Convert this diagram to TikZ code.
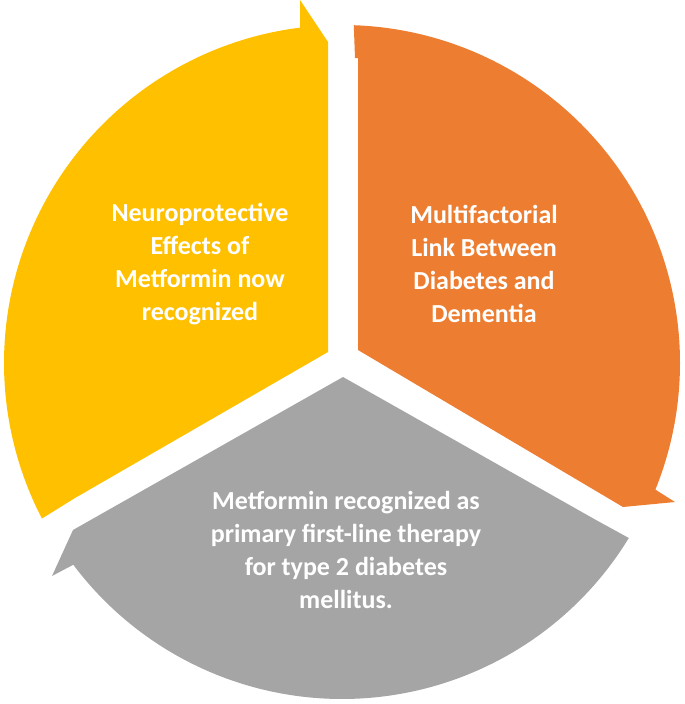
\documentclass[tikz,border=0pt]{standalone}
\usepackage{fontspec}
\setmainfont{Carlito}
\definecolor{cy}{HTML}{FFC000}
\definecolor{co}{HTML}{ED7D31}
\definecolor{cg}{HTML}{A5A5A5}
\begin{document}
\begin{tikzpicture}[x=1pt,y=-1pt,
  lbl/.style={text=white,font=\fontsize{26}{33}\selectfont\bfseries,align=center}]
\useasboundingbox (0,0) rectangle (685,704);
\coordinate (C) at (342,363);
\fill[cy] (328,352) -- (328,42) -- (300,0) -- ([shift={(C)}]262.9:338)
  arc[start angle=262.9,end angle=152.6,radius=338] -- (75,498) -- cycle;
\fill[co] (358,350) -- (358,58) -- (355,58) -- ([shift={(C)}]-88:338)
  arc[start angle=-88,end angle=22,radius=338] -- (675,502) -- (623,507) -- cycle;
\fill[cg] (343,377) -- (596,520) -- (627,537) -- ([shift={(C)}]31.4:336)
  arc[start angle=31.4,end angle=143.1,radius=336] -- (52,576) -- (73,530) -- cycle;
\node[lbl] (y) at (200,264) {Neuroprotective\\Effects of\\Metformin now\\recognized};
\node[lbl] (o) at (484,264) {Multifactorial\\Link Between\\Diabetes and\\Dementia};
\node[lbl] (g) at (346,550) {Metformin recognized as\\primary first-line therapy\\for type 2 diabetes\\mellitus.};
\end{tikzpicture}
\end{document}
